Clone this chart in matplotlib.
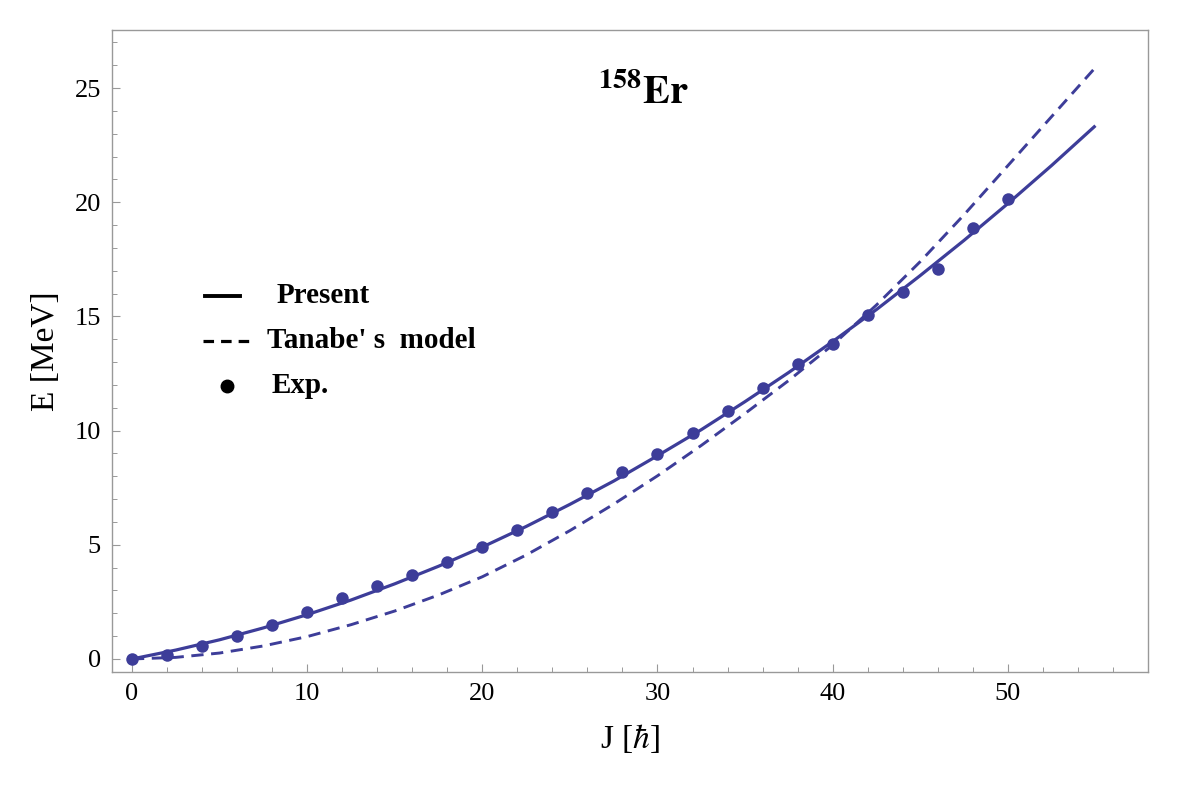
import numpy as np
import matplotlib.pyplot as plt
from matplotlib.ticker import MultipleLocator

plt.rcParams['font.family'] = ['Liberation Serif', 'DejaVu Serif']
plt.rcParams['mathtext.fontset'] = 'stix'

# Experimental yrast energies of 158Er
j_exp = [0, 2, 4, 6, 8, 10, 12, 14, 16, 18, 20, 22, 24, 26, 28, 30, 32, 34, 36, 38, 40, 42, 44, 46, 48, 50]
e_exp = [0.0, 0.19, 0.55, 1.0, 1.5, 2.06, 2.67, 3.2, 3.67, 4.26, 4.9, 5.65, 6.45, 7.25, 8.18, 8.97,
         9.9, 10.85, 11.88, 12.93, 13.77, 15.08, 16.08, 17.06, 18.87, 20.14]

# Model curves
j_curve = [0, 2.5, 5, 7.5, 10, 12.5, 15, 17.5, 20, 22.5, 25, 27.5, 30, 32.5, 35, 37.5, 40, 42.5,
           45, 47.5, 50, 52.5, 55]
e_present = [0.0, 0.39, 0.84, 1.36, 1.94, 2.58, 3.29, 4.06, 4.9, 5.8, 6.77, 7.79, 8.9, 10.04,
             11.27, 12.55, 13.9, 15.3, 16.79, 18.33, 19.94, 21.61, 23.35]
e_tanabe = [0.0, 0.07, 0.26, 0.57, 0.98, 1.5, 2.1, 2.8, 3.6, 4.55, 5.62, 6.78, 8.02, 9.35,
            10.75, 12.2, 13.75, 15.5, 17.4, 19.45, 21.6, 23.75, 25.9]

col = '#3d3d99'

fig = plt.figure(figsize=(11.9, 8), dpi=100)
ax = fig.add_axes([0.0941, 0.16, 0.8706, 0.8025])

ax.plot(j_curve, e_present, color=col, lw=2.3, solid_capstyle='butt')
ax.plot(j_curve, e_tanabe, color=col, lw=2.1, dashes=(4.2, 2.6))
ax.plot(j_exp, e_exp, 'o', color=col, ms=9, mec='none')

ax.set_xlim(-1.14, 58.0)
ax.set_ylim(-0.57, 27.54)
ax.xaxis.set_major_locator(MultipleLocator(10))
ax.xaxis.set_minor_locator(MultipleLocator(2))
ax.yaxis.set_major_locator(MultipleLocator(5))
ax.yaxis.set_minor_locator(MultipleLocator(1))
ax.tick_params(which='both', direction='in', color='#999999', labelsize=19, top=False, right=False)
ax.tick_params(which='major', length=6, width=0.8, pad=8)
ax.tick_params(which='minor', length=3.5, width=0.7)
for s in ax.spines.values():
    s.set_color('#999999')
    s.set_linewidth(1.0)

ax.set_xlabel(r'J [$\hbar$]', fontsize=24, labelpad=12)
ax.set_ylabel('E [MeV]', fontsize=24, labelpad=10)

ax.text(29.2, 24.3, r'$\mathbf{{}^{158}Er}$', fontsize=29, ha='center', va='baseline')

# legend drawn by hand
tr = ax.transAxes
ax.plot([0.0899, 0.1236], [0.5857, 0.5857], transform=tr, color='black', lw=2.8)
ax.plot([0.0880, 0.1323], [0.5156, 0.5156], transform=tr, color='black', lw=2.3, dashes=(3.3, 2.2))
ax.plot([0.1110], [0.4455], 'o', transform=tr, color='black', ms=9)
ax.text(0.1593, 0.5857, 'Present', transform=tr, fontsize=21, fontweight='bold', va='center')
ax.text(0.1496, 0.5156, "Tanabe' s  model", transform=tr, fontsize=21, fontweight='bold', va='center')
ax.text(0.1544, 0.4455, 'Exp.', transform=tr, fontsize=21, fontweight='bold', va='center')

fig.savefig('out.png', dpi=100, facecolor='white')
